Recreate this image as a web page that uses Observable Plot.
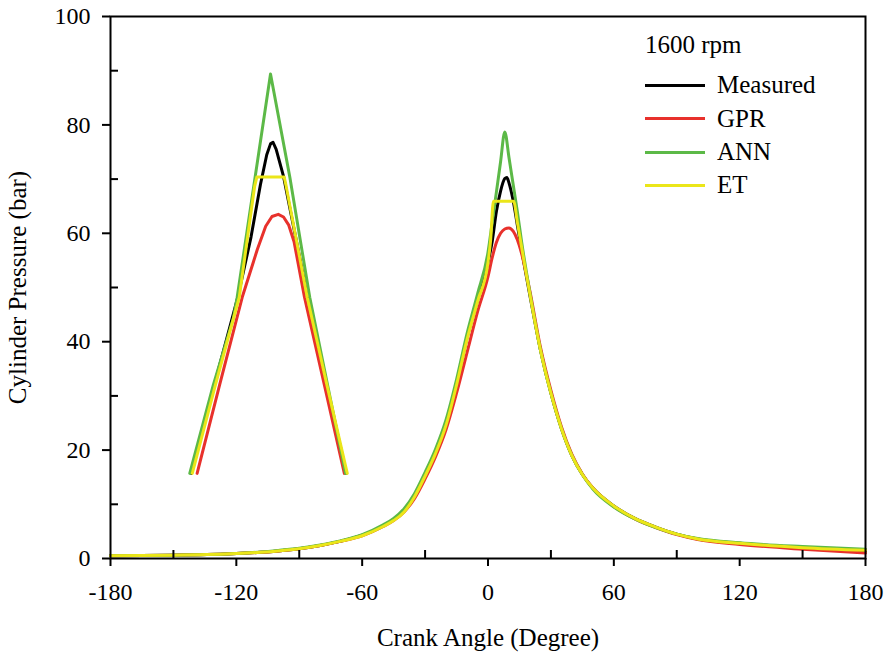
<!DOCTYPE html>
<html>
<head>
<meta charset="utf-8">
<script src="https://cdn.jsdelivr.net/npm/d3@7"></script>
<script src="https://cdn.jsdelivr.net/npm/@observablehq/plot@0.6"></script>
<style>
  body { margin: 0; background: #fff; }
  #wrap { position: relative; width: 887px; height: 658px; font-family: "Liberation Serif", "Times New Roman", serif; color: #000; }
  #legend { position: absolute; left: 645px; top: 0; }
  .row { position: absolute; left: 0; height: 30px; display: flex; align-items: center; white-space: nowrap; font-size: 25px; }
  .sw { width: 60px; height: 3px; margin-right: 12px; }
</style>
</head>
<body>
<div id="wrap"><div id="legend"></div></div>
<script>
// ---- data ----
const seriesNames = ["Measured", "GPR", "ANN", "ET"];
const seriesColors = ["#000000", "#e8312c", "#5cb947", "#ebe619"];
const legendTitle = "1600 rpm";
const xMajor = [-180, -120, -60, 0, 60, 120, 180];
const xMinor = [-150, -90, -30, 30, 90, 150];
const yMajor = [0, 20, 40, 60, 80, 100];
const yMinor = [10, 30, 50, 70, 90];
const xLabel = "Crank Angle (Degree)";
const yLabel = "Cylinder Pressure (bar)";

// main curves
const measuredAngle = [-180,-150,-120,-100,-90,-80,-70,-60,-50,-45,-40,-35,-30,-25,-20,-15,-10,-5,0,2,4,6,8,9,10,12,14,16,18,20,25,30,35,40,45,50,60,70,80,90,100,120,150,180];
const measuredP     = [0.5,0.6,0.9,1.4,1.8,2.4,3.2,4.3,6.0,7.2,8.9,11.6,15.4,19.6,24.8,32.2,40.7,47.6,54.6,58.5,64,67.8,70.1,70.3,69.3,66,61.5,57,52.7,48.5,38.5,30.5,24,19,15.5,13,9.7,7.4,5.8,4.5,3.6,2.8,2.0,1.4];

const gprAngle = [-180,-150,-120,-100,-90,-80,-70,-60,-50,-45,-40,-35,-30,-25,-20,-15,-10,-5,0,2,4,6,8,10,12,14,16,18,20,25,30,35,40,45,50,60,70,80,90,100,120,150,180];
const gprP     = [0.5,0.6,0.9,1.4,1.8,2.4,3.2,4.2,5.9,7.0,8.6,11.1,14.7,18.8,23.8,30.5,38,45.5,52,55.5,58.3,60.0,60.8,61.0,60.4,58.8,56.3,53,49.3,39,31,24.3,19.2,15.6,13,9.6,7.3,5.7,4.4,3.5,2.6,1.7,1.0];

const annAngle = [-180,-150,-120,-100,-90,-80,-70,-60,-50,-45,-40,-35,-30,-25,-20,-15,-10,-5,0,2,4,6,8,10,12,14,16,20,25,30,35,40,45,50,60,70,80,90,100,120,150,180];
const annP     = [0.5,0.6,0.9,1.5,1.9,2.5,3.3,4.4,6.2,7.4,9.2,12,15.9,20.2,25.6,33,41.5,48.8,56.5,62,67.6,73.2,78.7,74,69,64,58.5,49,38.5,30.5,24,19,15.5,12.8,9.5,7.3,5.7,4.5,3.7,2.9,2.2,1.7];

const etAngle = [-180,-150,-120,-100,-90,-80,-70,-60,-50,-45,-40,-35,-30,-25,-20,-15,-10,-5,0,1.2,2.6,12.2,14,16,18,20,25,30,35,40,45,50,60,70,80,90,100,120,150,180];
const etP     = [0.5,0.6,0.9,1.4,1.8,2.4,3.2,4.2,5.9,7.0,8.6,11.4,15.2,19.4,24.6,32,40.4,47.4,54.6,58.5,65.9,65.9,62,57.5,53,48.7,38.5,30.5,24,19,15.5,13,9.7,7.4,5.8,4.5,3.6,2.8,2.0,1.5];

// inset (magnified first peak), drawn in the chart's own units
const insetMeasuredAngle = [-141.5,-130.5,-119.3,-113,-108.5,-105.5,-103.7,-102.5,-101,-97.5,-86,-77,-67.5];
const insetMeasuredP     = [15.7,32,48.2,59.3,69,74.5,76.5,76.8,75.5,70.5,48.2,32,15.7];
const insetGprAngle = [-138.7,-128,-117.2,-110,-106,-103,-100,-97.5,-95,-92.5,-87.5,-78,-68.5];
const insetGprP     = [15.7,32,48.2,57,61.3,63.1,63.5,63,61.5,58.5,48.2,32,15.7];
const insetAnnAngle = [-142.2,-131,-121.5,-119.6,-103.7,-94.5,-85,-76.5,-67.9];
const insetAnnP     = [15.7,32,44.2,48.2,89.4,70.4,48.2,32,15.7];
const insetEtAngle = [-141,-130,-118.6,-111.3,-110.2,-97.2,-96.2,-86.2,-76.8,-67.1];
const insetEtP     = [15.7,32,48.2,68.6,70.4,70.4,68.6,48.2,32,15.7];

// ---- build tables ----
function rows(name, part, xs, ys) { return xs.map((a, i) => ({series: name, part, angle: a, p: ys[i]})); }
const mainSets = [[measuredAngle, measuredP],[gprAngle, gprP],[annAngle, annP],[etAngle, etP]];
const insetSets = [[insetMeasuredAngle, insetMeasuredP],[insetGprAngle, insetGprP],[insetAnnAngle, insetAnnP],[insetEtAngle, insetEtP]];

const lineMarks = [];
seriesNames.forEach((name, i) => {
  lineMarks.push(Plot.line(rows(name, "main", mainSets[i][0], mainSets[i][1]), {x: "angle", y: "p", stroke: seriesColors[i], strokeWidth: 3, curve: "monotone-x"}));
});
seriesNames.forEach((name, i) => {
  lineMarks.push(Plot.line(rows(name, "inset", insetSets[i][0], insetSets[i][1]), {x: "angle", y: "p", stroke: seriesColors[i], strokeWidth: 3, curve: "linear", strokeLinejoin: "round"}));
});

const chart = Plot.plot({
  width: 887, height: 658,
  marginLeft: 110, marginRight: 22, marginTop: 16, marginBottom: 100,
  x: {domain: [-180, 180]},
  y: {domain: [0, 100]},
  style: {fontFamily: '"Liberation Serif", "Times New Roman", serif', color: "#000", background: "#fff", overflow: "visible"},
  marks: [
    ...lineMarks,
    Plot.ruleX(xMinor, {insetTop: 534, strokeWidth: 2}),
    Plot.ruleY(yMinor, {insetRight: 747, strokeWidth: 2}),
    Plot.frame({strokeWidth: 2}),
    Plot.axisX({ticks: xMajor, tickSize: 8, tickPadding: 16, tickFormat: d => String(d), fontSize: 24, label: null, strokeWidth: 2}),
    Plot.axisY({ticks: yMajor, tickSize: 8, tickPadding: 12, tickFormat: d => String(d), fontSize: 24, label: null, strokeWidth: 2}),
    Plot.text([xLabel], {frameAnchor: "bottom", dy: 79, lineAnchor: "middle", textAnchor: "middle", fontSize: 25}),
    Plot.text([yLabel], {frameAnchor: "left", dx: -93, rotate: -90, textAnchor: "middle", lineAnchor: "middle", fontSize: 25})
  ]
});
const wrap = document.getElementById("wrap");
wrap.insertBefore(chart, wrap.firstChild);

// legend
const legend = document.getElementById("legend");
const title = document.createElement("div");
title.className = "row";
title.style.top = "30px";
title.textContent = legendTitle;
legend.appendChild(title);
const rowCenters = [85, 118.5, 152, 185];
seriesNames.forEach((name, i) => {
  const r = document.createElement("div");
  r.className = "row";
  r.style.top = (rowCenters[i] - 15) + "px";
  const sw = document.createElement("div");
  sw.className = "sw";
  sw.style.background = seriesColors[i];
  const t = document.createElement("span");
  t.textContent = name;
  r.appendChild(sw); r.appendChild(t);
  legend.appendChild(r);
});
</script>
</body>
</html>
